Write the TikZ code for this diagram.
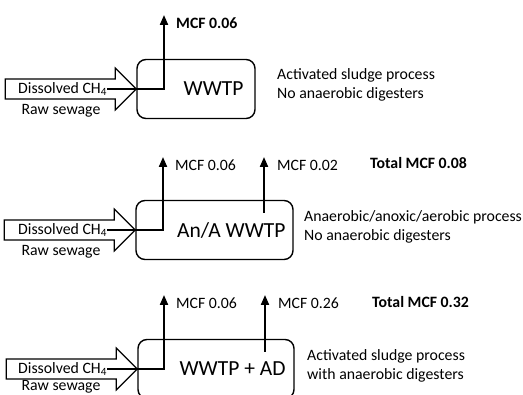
\documentclass[tikz,border=0pt]{standalone}
\usepackage{fontspec}
\setmainfont{Carlito}
\usetikzlibrary{calc, positioning, arrows.meta}

\begin{document}
\begin{tikzpicture}[
  x=1pt, y=-1pt,
  plant/.style={draw=black, line width=1.4pt, rounded corners=9pt, minimum height=59pt, inner sep=0pt},
  plantlab/.style={font=\fontsize{21.5}{24}\selectfont, inner sep=0pt, anchor=east},
  inflow/.pic={\draw[line width=1.2pt] (0,0) -- (-21,-21) -- (-21,-10) -- (-131,-10) -- (-131,10) -- (-21,10) -- (-21,21) -- cycle;},
  lab/.style={font=\fontsize{15.8}{18.5}\selectfont, inner sep=0pt},
  blab/.style={font=\fontsize{15.8}{18.5}\selectfont\bfseries, inner sep=0pt},
  emis/.style={draw=black, line width=2pt, -{Triangle[length=10pt, width=8pt]}}
]
\clip (0,0) rectangle (523,395);

% panel 1: conventional plant
\coordinate (C1) at (0,89);
\node[plant, minimum width=118pt] (P1) at (196,89) {};
\node[plantlab] (P1lab) at ($(P1.east)+(-12,0)$) {WWTP};
\pic at (P1.west) {inflow};
\node[lab, anchor=west] (dis1) at ($(C1)+(18,0)$) {Dissolved CH\textsubscript{4}};
\node[lab] (raw1) at ($(C1)+(61,22)$) {Raw sewage};
\coordinate (e1) at (164,15);
\draw[emis] (dis1.east) -| (e1);
\node[blab, anchor=west] (mcf1) at ($(e1)+(12,8)$) {MCF 0.06};
\node[lab, anchor=west, align=left] (desc1) at ($(C1)+(277,-4)$) {Activated sludge process\\No anaerobic digesters};

% panel 2: An/A plant
\coordinate (C2) at (0,230);
\node[plant, minimum width=157pt] (P2) at (214.5,230) {};
\node[plantlab] (P2lab) at ($(P2.east)+(-8,0)$) {An/A WWTP};
\pic at (P2.west) {inflow};
\node[lab, anchor=west] (dis2) at ($(C2)+(18,0)$) {Dissolved CH\textsubscript{4}};
\node[lab] (raw2) at ($(C2)+(61,22)$) {Raw sewage};
\coordinate (e2) at (163,157);
\coordinate (s2) at (264,213);
\coordinate (t2) at (264,157);
\draw[emis] (dis2.east) -| (e2);
\draw[emis] (s2) -- (t2);
\node[lab, anchor=west] (mcf2a) at ($(e2)+(12,8)$) {MCF 0.06};
\node[lab, anchor=west] (mcf2b) at ($(t2)+(13,8)$) {MCF 0.02};
\node[blab, anchor=west] (tot2) at ($(C2)+(370,-67)$) {Total MCF 0.08};
\node[lab, anchor=west, align=left] (desc2) at ($(C2)+(304,-3)$) {Anaerobic/anoxic/aerobic process\\No anaerobic digesters};

% panel 3: plant with digesters
\coordinate (C3) at (0,369);
\node[plant, minimum width=156pt] (P3) at (216,369) {};
\node[plantlab] (P3lab) at ($(P3.east)+(-9,0)$) {WWTP + AD};
\pic at (P3.west) {inflow};
\node[lab, anchor=west] (dis3) at ($(C3)+(18,0)$) {Dissolved CH\textsubscript{4}};
\node[lab] (raw3) at ($(C3)+(61,18)$) {Raw sewage};
\coordinate (e3) at (164,295);
\coordinate (s3) at (265,352);
\coordinate (t3) at (265,295);
\draw[emis] (dis3.east) -| (e3);
\draw[emis] (s3) -- (t3);
\node[lab, anchor=west] (mcf3a) at ($(e3)+(12,8)$) {MCF 0.06};
\node[lab, anchor=west] (mcf3b) at ($(t3)+(13,8)$) {MCF 0.26};
\node[blab, anchor=west] (tot3) at ($(C3)+(372,-67)$) {Total MCF 0.32};
\node[lab, anchor=west, align=left] (desc3) at ($(C3)+(307,-3)$) {Activated sludge process\\with anaerobic digesters};

\end{tikzpicture}
\end{document}
